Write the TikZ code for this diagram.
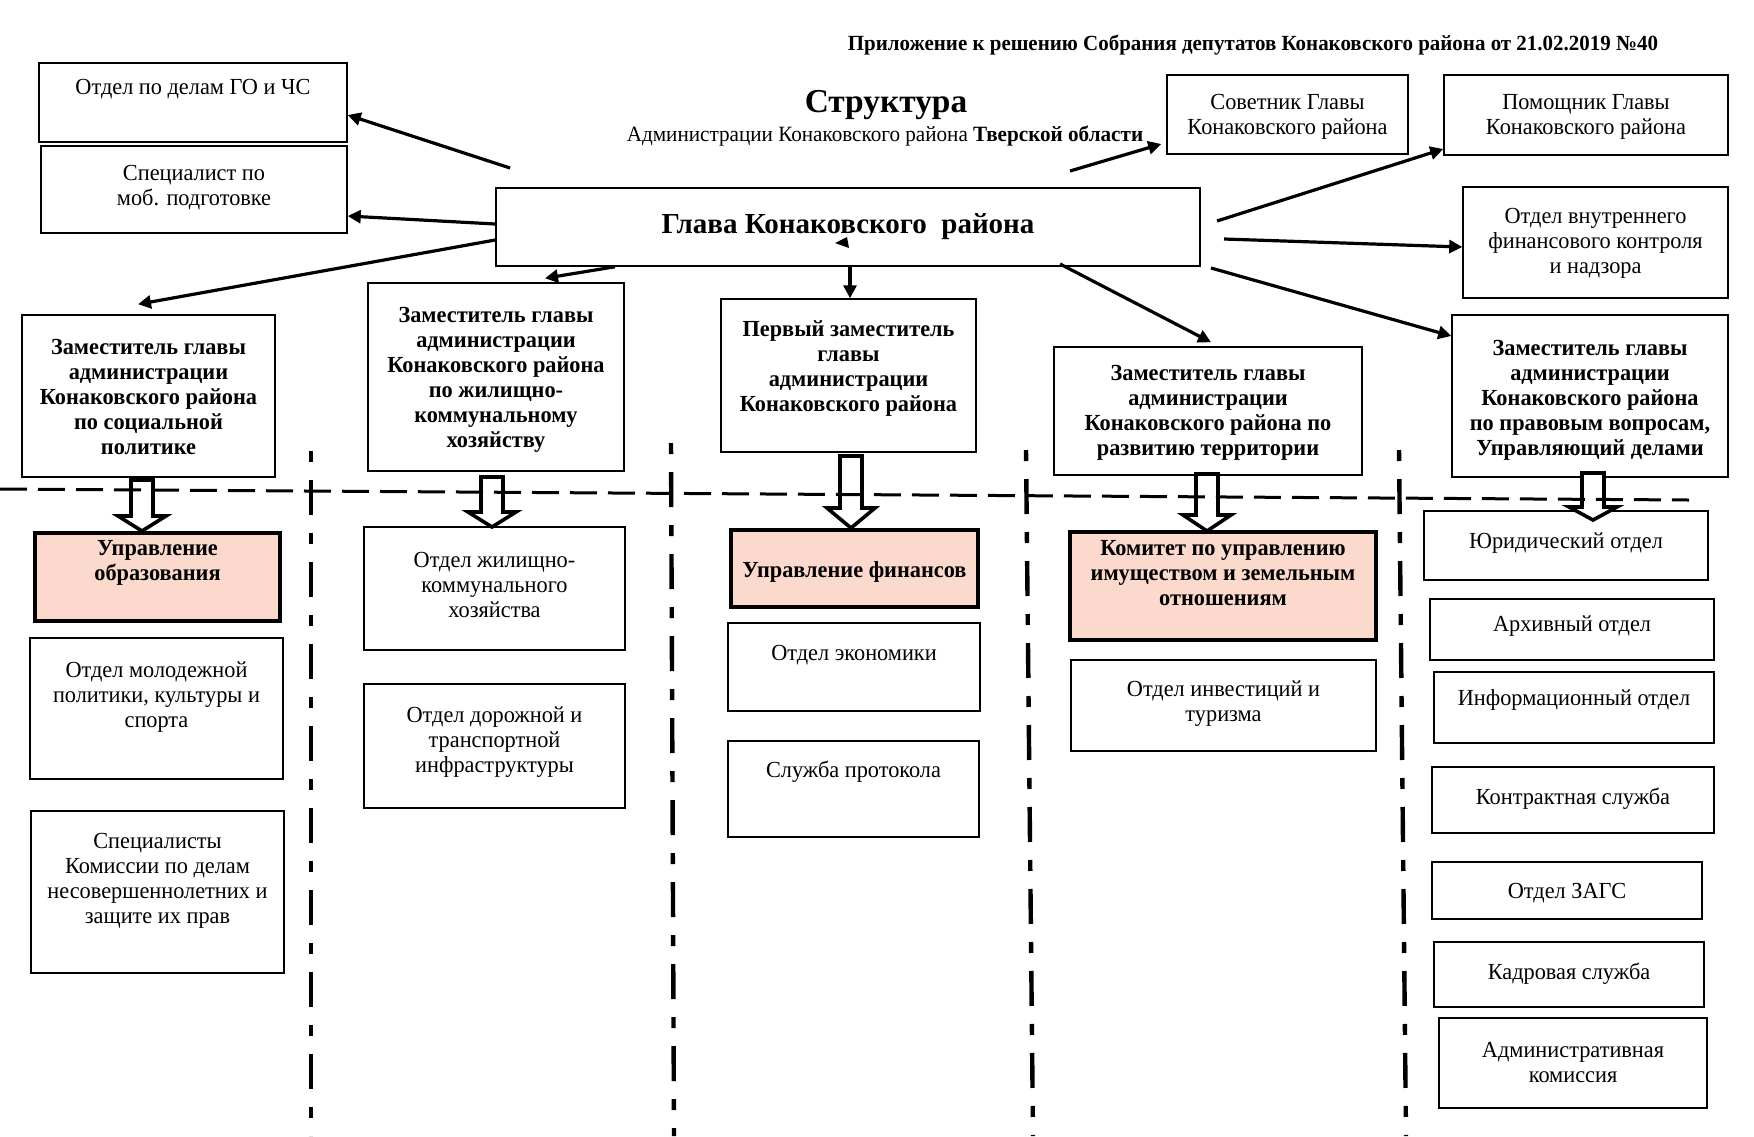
\documentclass[tikz,border=0pt]{standalone}
\usepackage{fontspec}
\setmainfont{Liberation Serif}[FakeStretch=0.97]
\newfontfamily\wideserif{Liberation Serif}
\usetikzlibrary{fit,calc,arrows.meta}
\definecolor{pinkc}{RGB}{252,217,205}
\tikzset{
  bx/.style={draw, line width=0.75pt, inner sep=0pt, rectangle},
  pbx/.style={draw, line width=1.8pt, fill=pinkc, inner sep=0pt, rectangle},
  tr/.style={font=\fontsize{11.5}{12.5}\selectfont, align=center, inner sep=0pt},
  tb/.style={font=\fontsize{11.5}{12.5}\selectfont\bfseries, align=center, inner sep=0pt},
  arr/.style={line width=1.6pt, -{Triangle[length=6.5pt,width=6.5pt]}},
  blk/.style={draw, line width=1.8pt, fill=white, line join=miter},
  hdash/.style={line width=1.5pt, dash pattern=on 13.5pt off 5.5pt},
  vdash/.style={line width=2.2pt, dash pattern=on 5.5pt off 9pt on 17.5pt off 9pt},
}
\newcommand\mybox[9]{\node[#6, fit={(#2,#3) (#4,#5)}] (#1) {};
  \node[#7] (#1t) at ({(#2+#4)/2},#8) {#9};}
\newcommand\blkarrow[4]{%
  \draw[blk] ({#1-11},#2) -- ({#1+11},#2) -- ({#1+11},#3) -- ({#1+24},#3) -- (#1,#4) -- ({#1-24},#3) -- ({#1-11},#3) -- cycle;}
\begin{document}
\begin{tikzpicture}[x=0.5pt,y=-0.5pt]
\fill[white] (0,0) rectangle (1754,1136);
\useasboundingbox (0,0) rectangle (1754,1136);

% header
\node[font=\fontsize{10.8}{13}\selectfont\bfseries, inner sep=0pt] (hdr) at (1253,45) {Приложение к решению Собрания депутатов Конаковского района от 21.02.2019 №40};
\node[font=\wideserif\fontsize{16.7}{19}\selectfont\bfseries, inner sep=0pt] (title) at (886,105) {Структура};
\node[font=\fontsize{10.9}{13}\selectfont, inner sep=0pt] (subt) at (885,136) {Администрации Конаковского района \textbf{Тверской области}};

% top row
\mybox{go}{39}{63}{347}{142}{bx}{tr}{89.5}{Отдел по делам ГО и ЧС}
\mybox{spec}{41}{146}{347}{233}{bx}{tr}{187.5}{Специалист по\\моб. подготовке}
\mybox{sov}{1167}{75}{1408}{154}{bx}{tr}{116.5}{Советник Главы\\Конаковского района}
\mybox{pom}{1444}{75}{1728}{155}{bx}{tr}{116.5}{Помощник Главы\\Конаковского района}
\mybox{vn}{1463}{187}{1728}{298}{bx}{tr}{243}{Отдел внутреннего\\финансового контроля\\и надзора}
\node[bx, fit={(496,188) (1200,266)}] (glava) {};
\node[font=\wideserif\fontsize{14.5}{16}\selectfont\bfseries, inner sep=0pt] (glavat) at (848,227) {Глава Конаковского~ района};

% deputies
\mybox{zsoc}{22}{315}{275}{477}{bx}{tb}{397}{Заместитель главы\\администрации\\Конаковского района\\по социальной\\политике}
\mybox{zjkh}{368}{283}{624}{471}{bx}{tb}{379.5}{Заместитель главы\\администрации\\Конаковского района\\по жилищно-\\коммунальному\\хозяйству}
\mybox{perv}{721}{299}{976}{452}{bx}{tb}{368.5}{Первый заместитель\\главы\\администрации\\Конаковского района}
\mybox{razv}{1054}{347}{1362}{475}{bx}{tb}{412.5}{Заместитель главы\\администрации\\Конаковского района по\\развитию территории}
\mybox{prav}{1452}{315}{1728}{477}{bx}{tb}{400.5}{Заместитель главы\\администрации\\Конаковского района\\по правовым вопросам,\\Управляющий делами}

% column 1
\mybox{uobr}{35}{533}{280}{621}{pbx}{tb}{563}{Управление\\образования}
\mybox{molod}{30}{638}{283}{779}{bx}{tr}{697}{Отдел молодежной\\политики, культуры и\\спорта}
\mybox{kdn}{31}{811}{284}{973}{bx}{tr}{880.5}{Специалисты\\Комиссии по делам\\несовершеннолетних и\\защите их прав}
% column 2
\mybox{ojkh}{364}{527}{625}{650}{bx}{tr}{585}{Отдел жилищно-\\коммунального\\хозяйства}
\mybox{dor}{364}{684}{625}{808}{bx}{tr}{742.5}{Отдел дорожной и\\транспортной\\инфраструктуры}
% column 3
\mybox{ufin}{731}{530}{978}{607}{pbx}{tb}{572}{Управление финансов}
\mybox{econ}{728}{623}{980}{711}{bx}{tr}{655}{Отдел экономики}
\mybox{prot}{728}{741}{979}{837}{bx}{tr}{772}{Служба протокола}
% column 4
\mybox{kom}{1070}{532}{1376}{640}{pbx}{tb}{573.5}{Комитет по управлению\\имуществом и земельным\\отношениям}
\mybox{inv}{1071}{660}{1376}{751}{bx}{tr}{703.5}{Отдел инвестиций и\\туризма}
% column 5
\mybox{jur}{1424}{511}{1708}{580}{bx}{tr}{543}{Юридический отдел}
\mybox{arch}{1430}{599}{1714}{660}{bx}{tr}{626}{Архивный отдел}
\mybox{inf}{1434}{672}{1714}{743}{bx}{tr}{700}{Информационный отдел}
\mybox{kontr}{1432}{767}{1714}{833}{bx}{tr}{799}{Контрактная служба}
\mybox{zags}{1432}{862}{1702}{919}{bx}{tr}{893}{Отдел ЗАГС}
\mybox{kadr}{1434}{942}{1704}{1007}{bx}{tr}{974}{Кадровая служба}
\mybox{adm}{1439}{1018}{1707}{1108}{bx}{tr}{1062.5}{Административная\\комиссия}

% block arrows
\blkarrow{142}{480}{516}{531}
\blkarrow{492}{477}{512}{527}
\blkarrow{851}{456}{508}{528}
\blkarrow{1207}{474}{515}{531}
\blkarrow{1593}{473}{507}{520}

% dashed separators
\draw[hdash] (0,489) -- (1689,500);
\draw[vdash] (311,451) -- (311,1136);
\draw[vdash] (671,443) -- (674,1136);
\draw[vdash] (1026,450) -- (1033,1136);
\draw[vdash] (1399,450) -- (1406,1136);

% connectors from Glava
\coordinate (s1) at (510,168);
\coordinate (s6) at (1070,171);
\coordinate (s7) at (1217,221);
\coordinate (s8) at (1224,239);
\coordinate (s9) at (1060,264);
\coordinate (s10) at (1211,268);
\draw[arr] (s1) -- (go.east |- 0,115);
\draw[arr] (glava.west |- 0,224) -- (spec.east |- 0,216);
\draw[arr] (glava.west |- 0,240) -- ($(zsoc.north)+(-10.5,-10)$);
\draw[arr] (glava.south -| 615,0) -- ($(zjkh.north)+(49,-4)$);
\draw[arr] (glava.south -| 850,0) -- (perv.north -| 850,0);
\fill (835,243) -- (847,237) -- (849,248) -- cycle;
\draw[arr] (s6) -- ($(sov.west |- 0,144)+(-5,0)$);
\draw[arr] (s7) -- (pom.west |- 0,149);
\draw[arr] (s8) -- (vn.west |- 0,247);
\draw[arr] (s9) -- ($(razv.north)+(3,-4)$);
\draw[arr] (s10) -- (prav.north west |- 0,336);
\end{tikzpicture}
\end{document}
